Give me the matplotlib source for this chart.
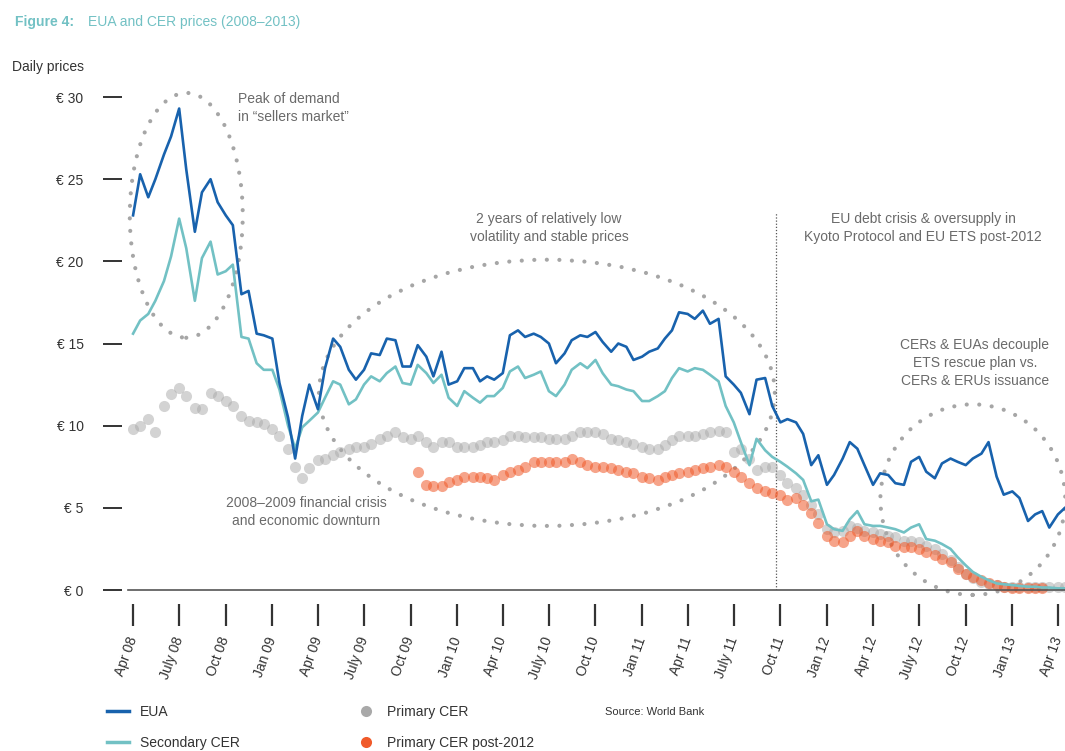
import numpy as np
import pandas as pd
import matplotlib
matplotlib.use("Agg")
import matplotlib.pyplot as plt
import matplotlib.dates as mdates
from matplotlib.patches import Ellipse
from matplotlib.lines import Line2D

plt.rcParams['font.family'] = ['Liberation Sans', 'DejaVu Sans']

W, H = 1065, 751

# semi-monthly readings, Apr 2008 - Apr 2013
dates = pd.date_range('2008-04-01', periods=122, freq='SMS')

eua = [22.8, 25.3, 23.9, 25.0, 26.5, 27.6, 29.3, 25.6, 21.8, 24.2,
       25.0, 23.6, 22.8, 22.2, 18.0, 18.2, 15.6, 15.5, 15.3, 12.6,
       10.5, 8.0, 10.6, 12.5, 11.0, 13.5, 15.3, 14.8, 13.4, 12.8,
       13.4, 14.4, 14.3, 15.3, 15.2, 13.6, 13.6, 14.9, 14.2, 13.0,
       14.5, 12.5, 12.7, 13.5, 13.5, 12.7, 13.0, 12.8, 13.2, 15.5,
       15.8, 15.4, 15.6, 15.4, 15.0, 13.8, 14.4, 15.2, 15.5, 15.4,
       15.7, 15.1, 14.5, 15.0, 14.8, 14.0, 14.2, 14.5, 14.7, 15.3,
       15.8, 16.9, 16.8, 16.5, 17.0, 16.2, 16.5, 13.0, 12.5, 12.0,
       10.7, 12.8, 12.9, 11.2, 10.2, 10.4, 10.2, 9.5, 7.6, 8.2,
       6.4, 7.0, 8.0, 9.0, 8.6, 7.6, 6.4, 7.1, 7.0, 6.5,
       6.4, 7.8, 8.1, 7.2, 6.8, 7.7, 8.0, 7.8, 7.6, 8.0,
       8.3, 9.0, 6.9, 5.8, 6.0, 5.6, 4.2, 4.6, 4.8, 3.8, 4.6, 5.0]

secondary_cer = [15.6, 16.4, 16.8, 17.6, 18.8, 20.3, 22.6, 20.8, 17.6, 20.2,
                 21.2, 19.2, 19.4, 19.8, 15.4, 15.3, 13.8, 13.4, 13.4, 12.2,
                 10.0, 8.6, 9.9, 10.3, 10.8, 11.7, 12.7, 12.5, 11.3, 11.6,
                 12.5, 13.0, 12.7, 13.2, 13.6, 12.6, 12.5, 13.7, 13.2, 12.6,
                 13.1, 11.7, 11.2, 12.1, 11.7, 11.4, 11.8, 11.8, 12.3, 13.3,
                 13.6, 12.9, 13.1, 13.3, 12.1, 11.8, 12.5, 13.4, 13.8, 13.5,
                 14.0, 13.2, 12.5, 12.4, 12.2, 12.1, 11.5, 11.5, 11.8, 12.1,
                 12.9, 13.5, 13.3, 13.5, 13.4, 13.1, 12.7, 11.2, 10.2, 9.0,
                 7.6, 9.2, 8.5, 8.1, 7.8, 7.5, 7.1, 6.7, 5.4, 5.5,
                 4.0, 3.7, 3.6, 4.3, 4.8, 4.0, 3.9, 3.9, 3.8, 3.7,
                 3.5, 3.8, 4.0, 3.1, 3.0, 2.8, 2.5, 2.0, 1.5, 1.1,
                 0.8, 0.6, 0.4, 0.35, 0.3, 0.25, 0.2, 0.2, 0.15, 0.15, 0.1, 0.1]

primary_cer = [9.8, 10.0, 10.4, 9.6, 11.2, 11.9, 12.3, 11.8, 11.1, 11.0,
               12.0, 11.8, 11.5, 11.2, 10.6, 10.3, 10.2, 10.1, 9.8, 9.4,
               8.6, 7.5, 6.8, 7.4, 7.9, 8.0, 8.2, 8.4, 8.6, 8.7,
               8.7, 8.9, 9.2, 9.4, 9.6, 9.3, 9.2, 9.4, 9.0, 8.7,
               9.0, 9.0, 8.7, 8.7, 8.7, 8.8, 9.0, 9.0, 9.1, 9.4,
               9.4, 9.3, 9.3, 9.3, 9.2, 9.2, 9.2, 9.4, 9.6, 9.6,
               9.6, 9.5, 9.2, 9.1, 9.0, 8.9, 8.7, 8.6, 8.6, 8.8,
               9.1, 9.4, 9.4, 9.4, 9.5, 9.6, 9.7, 9.6, 8.4, 8.6,
               8.0, 7.3, 7.5, 7.5, 7.0, 6.5, 6.2, 5.8, 5.2, 4.6,
               3.7, 3.5, 3.6, 3.9, 3.8, 3.6, 3.5, 3.4, 3.3, 3.2,
               3.0, 3.0, 2.9, 2.7, 2.5, 2.2, 1.8, 1.4, 1.0, 0.7,
               0.5, 0.35, 0.3, 0.2, 0.2, 0.2, 0.2, 0.2, 0.2, 0.2, 0.2, 0.2]

# post-2012 primary CER quoted from Oct 2009 (index 37) on
post2012_start = 37
primary_post2012 = [7.2, 6.4, 6.3,
                    6.3, 6.6, 6.7, 6.9, 6.9, 6.9, 6.8, 6.7, 7.0, 7.2,
                    7.3, 7.5, 7.8, 7.8, 7.8, 7.8, 7.8, 8.0, 7.8, 7.6,
                    7.5, 7.5, 7.4, 7.3, 7.2, 7.1, 6.9, 6.8, 6.7, 6.9,
                    7.0, 7.1, 7.2, 7.3, 7.4, 7.5, 7.6, 7.5, 7.2, 6.9,
                    6.5, 6.2, 6.0, 5.9, 5.8, 5.5, 5.6, 5.2, 4.7, 4.1,
                    3.3, 3.0, 2.9, 3.3, 3.6, 3.3, 3.1, 3.0, 2.9, 2.7,
                    2.6, 2.6, 2.5, 2.3, 2.1, 1.9, 1.7, 1.3, 1.0, 0.8,
                    0.6, 0.4, 0.3, 0.2, 0.15, 0.1, 0.1, 0.1, 0.1]

tick_dates = pd.date_range('2008-04-01', '2013-04-01', freq='3MS')
tick_labels = ['Apr 08', 'July 08', 'Oct 08', 'Jan 09', 'Apr 09', 'July 09',
               'Oct 09', 'Jan 10', 'Apr 10', 'July 10', 'Oct 10', 'Jan 11',
               'Apr 11', 'July 11', 'Oct 11', 'Jan 12', 'Apr 12', 'July 12',
               'Oct 12', 'Jan 13', 'Apr 13']
y_ticks = [0, 5, 10, 15, 20, 25, 30]
y_labels = ['€ 0', '€ 5', '€ 10', '€ 15', '€ 20', '€ 25', '€ 30']

c_eua = '#1862ad'
c_sec = '#72c1c4'
c_pri = '#a9a9a9'
c_post = '#f05a2a'
c_note = '#6a6a6a'
c_dots = '#a6a6a6'


def fx(x, y):
    return x / W, 1 - y / H


fig = plt.figure(figsize=(W / 100, H / 100), dpi=100)
ax = fig.add_axes([128 / W, 1 - 590 / H, (W - 128) / W, (590 - 80.6) / H])

ax.plot(dates, primary_cer, 'o', color=c_pri, ms=8, alpha=0.5, mec='none', clip_on=False, zorder=2)
ax.plot(dates[post2012_start:post2012_start + len(primary_post2012)], primary_post2012, 'o',
        color=c_post, ms=8, alpha=0.55, mec='none', clip_on=False, zorder=3)
ax.plot(dates, secondary_cer, color=c_sec, lw=1.9, clip_on=False, zorder=4)
ax.plot(dates, eua, color=c_eua, lw=1.9, clip_on=False, zorder=5)

ax.set_xlim(pd.Timestamp('2008-03-22'), pd.Timestamp('2013-04-15'))
ax.set_ylim(0, 31)
ax.axhline(0, color='#555555', lw=1.2, zorder=6, clip_on=False)

# dotted ellipses and separator
def dotted_ellipse(center_date, y, width_days, height):
    e = Ellipse((mdates.date2num(pd.Timestamp(center_date)), y), width_days, height,
                fill=False, edgecolor=c_dots, lw=3, linestyle=(0, (0.01, 3)),
                clip_on=False, zorder=1)
    e.set_capstyle('round')
    ax.add_patch(e)

dotted_ellipse('2008-07-15', 22.8, 223, 14.9)
dotted_ellipse('2010-06-27', 12.0, 900, 16.2)
dotted_ellipse('2012-10-15', 5.5, 365, 11.6)

sep = pd.Timestamp('2011-09-22')
ax.plot([sep, sep], [0, 23.0], color='#555555', lw=0.9, linestyle=(0, (1, 1.5)), zorder=1)

for s in ['top', 'right']:
    ax.spines[s].set_visible(False)
ax.spines['bottom'].set_position(('outward', 10))
ax.spines['left'].set_position(('outward', 4))
ax.spines['bottom'].set_visible(False)
ax.spines['left'].set_visible(False)

ax.set_xticks(tick_dates)
ax.set_xticklabels(tick_labels, rotation=70, ha='right', va='center', rotation_mode='anchor')
ax.set_yticks(y_ticks)
ax.set_yticklabels(y_labels)
ax.tick_params(axis='x', length=16, width=1.6, color='#333333', pad=8, labelsize=10, labelcolor='#333333')
ax.tick_params(axis='y', length=14, width=1.4, color='#333333', pad=14, labelsize=10, labelcolor='#333333')

# titles and notes
fig.text(*fx(15, 22), 'Figure 4:', color=c_sec, fontsize=10, fontweight='bold', va='center')
fig.text(*fx(88, 22), 'EUA and CER prices (2008–2013)', color=c_sec, fontsize=10, va='center')
fig.text(*fx(12, 67), 'Daily prices', color='#333333', fontsize=10, va='center')

note = dict(color=c_note, fontsize=10, linespacing=1.35)
fig.text(*fx(238, 92), 'Peak of demand\nin “sellers market”', ha='left', va='top', **note)
fig.text(*fx(549, 212), '2 years of relatively low\nvolatility and stable prices', ha='center', va='top', **note)
fig.text(*fx(923, 212), 'EU debt crisis & oversupply in\nKyoto Protocol and EU ETS post-2012', ha='center', va='top', **note)
fig.text(*fx(975, 338), 'CERs & EUAs decouple\nETS rescue plan vs.\nCERs & ERUs issuance', ha='center', va='top', **note)
fig.text(*fx(306, 496), '2008–2009 financial crisis\nand economic downturn', ha='center', va='top', **note)

# legend
handles = [Line2D([], [], color=c_eua, lw=2.5),
           Line2D([], [], color=c_sec, lw=2.5),
           Line2D([], [], color=c_pri, marker='o', ls='none', ms=8, mec='none'),
           Line2D([], [], color=c_post, marker='o', ls='none', ms=8, mec='none')]
labels = ['EUA', 'Secondary CER', 'Primary CER', 'Primary CER post-2012']
fig.legend(handles, labels, ncol=2, loc='upper left', bbox_to_anchor=fx(107, 705),
           frameon=False, fontsize=10, handlelength=1.6, handletextpad=0.75,
           columnspacing=8.3, labelspacing=1.2, borderpad=0, borderaxespad=0,
           labelcolor='#333333')
fig.text(*fx(605, 712), 'Source: World Bank', color='#333333', fontsize=8, va='center')

fig.savefig('out.png', dpi=100)
